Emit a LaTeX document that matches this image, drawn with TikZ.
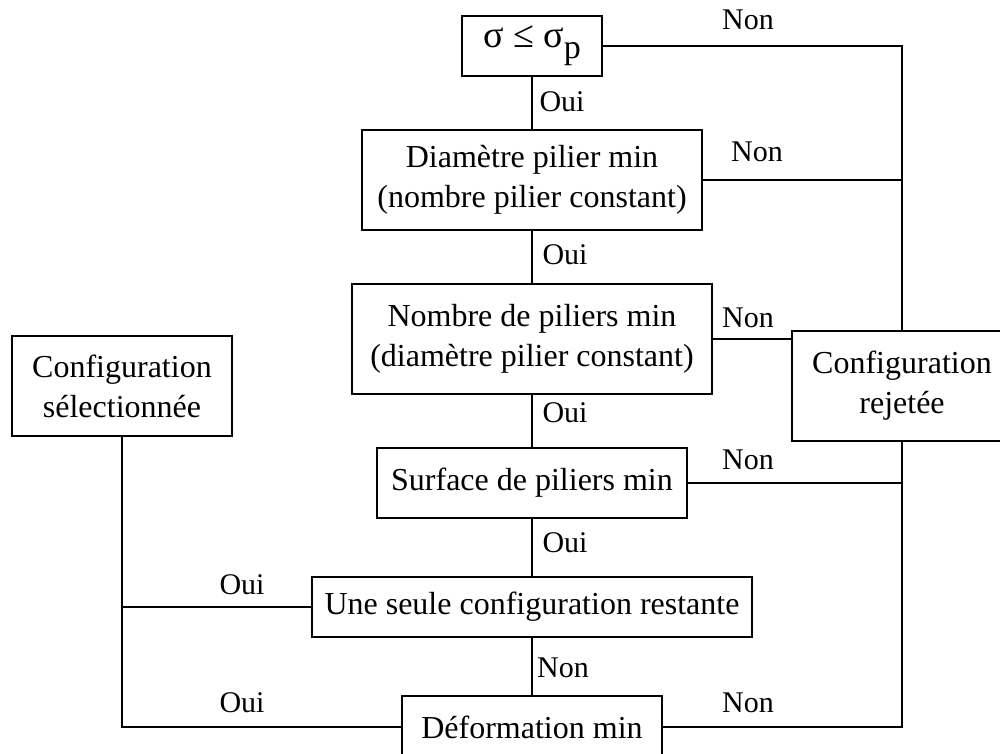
\documentclass[tikz,border=0pt]{standalone}
\usepackage{fontspec}
\setmainfont{Liberation Serif}
\begin{document}
\begin{tikzpicture}[x=1pt,y=-1pt,
  box/.style={draw,line width=2pt,align=center,inner sep=0pt,font=\fontsize{32}{40}\selectfont},
  lbl/.style={inner sep=0pt,font=\fontsize{30}{36}\selectfont},
  conn/.style={line width=2pt}]
\useasboundingbox (0,0) rectangle (1000,754);
\node[box,minimum width=140,minimum height=60] (b1) at (532,46)
  {\fontsize{38}{40}\selectfont σ ≤ σ\raisebox{-0.28em}{\fontsize{34}{40}\selectfont p}};
\node[box,minimum width=340,minimum height=100] (b2) at (532,180)
  {Diamètre pilier min\\(nombre pilier constant)};
\node[box,minimum width=360,minimum height=110] (b3) at (532,339)
  {Nombre de piliers min\\(diamètre pilier constant)};
\node[box,minimum width=310,minimum height=70] (b4) at (532,483)
  {Surface de piliers min};
\node[box,minimum width=440,minimum height=60] (b5) at (532,607)
  {Une seule configuration restante};
\node[box,minimum width=260,minimum height=62] (b6) at (532,727)
  {Déformation min};
\node[box,minimum width=220,minimum height=110] (rej) at (902,385.5)
  {Configuration\\rejetée};
\node[box,minimum width=220,minimum height=100] (sel) at (122,386)
  {Configuration\\sélectionnée};
\coordinate (r1) at (902,46);
\coordinate (r6) at (902,727);
\coordinate (l6) at (122,727);
\draw[conn] (b1.south) -- (b2.north);
\draw[conn] (b2.south) -- (b3.north);
\draw[conn] (b3.south) -- (b4.north);
\draw[conn] (b4.south) -- (b5.north);
\draw[conn] (b5.south) -- (b6.north);
\draw[conn] (b1.east) -- (r1) -- (rej.north);
\draw[conn] (b2.east) -- (b2.east -| rej.north);
\draw[conn] (b3.east) -- (b3.east -| rej.west);
\draw[conn] (rej.south) -- (r6) -- (b6.east);
\draw[conn] (b4.east) -- (b4.east -| rej.south);
\draw[conn] (sel.south) -- (l6) -- (b6.west);
\draw[conn] (b5.west) -- (b5.west -| sel.south);
\node[lbl] (n1) at (748,20) {Non};
\node[lbl] (o1) at (562,102) {Oui};
\node[lbl] (n2) at (757,152) {Non};
\node[lbl] (o2) at (565,255) {Oui};
\node[lbl] (n3) at (748,318) {Non};
\node[lbl] (o3) at (565,413) {Oui};
\node[lbl] (n4) at (748,460) {Non};
\node[lbl] (o4) at (565,543) {Oui};
\node[lbl] (o5) at (242,585) {Oui};
\node[lbl] (n5) at (563,668) {Non};
\node[lbl] (o6) at (242,703) {Oui};
\node[lbl] (n6) at (748,703) {Non};
\end{tikzpicture}
\end{document}
